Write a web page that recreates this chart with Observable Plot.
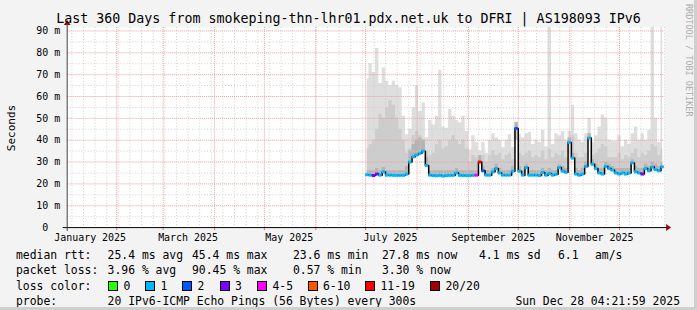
<!DOCTYPE html>
<html><head><meta charset="utf-8">
<script src="https://cdn.jsdelivr.net/npm/d3@7"></script>
<script src="https://cdn.jsdelivr.net/npm/@observablehq/plot@0.6"></script>
<style>
html,body{margin:0;padding:0;background:#f3f3f3;}
#wrap{position:relative;width:697px;height:310px;background:#f3f3f3;overflow:hidden;font-family:"DejaVu Sans Mono",monospace;color:#000;box-sizing:border-box;border-right:3px solid #cfcfcf;border-bottom:3px solid #cfcfcf;}
#wrap svg{position:absolute;left:0;top:18px;}
.t{position:absolute;white-space:pre;font-size:11.4px;line-height:12px;}
.box{position:absolute;width:8px;height:8px;border:1px solid #000;}
</style></head><body><div id="wrap"></div>
<script>
// ---- data ----
const titleText = "Last 360 Days from smokeping-thn-lhr01.pdx.net.uk to DFRI | AS198093 IPv6";
const startDate = new Date(Date.UTC(2025, 0, 2, 4, 21, 59));
const endDate = new Date(Date.UTC(2025, 11, 28, 4, 21, 59));
// one sample every 2 days starting 2025-07-02
const medianRtt = [
 24.2,24.0,23.8,24.5,24.0,25.5,24.0,24.0,23.9,23.9,
 23.9,23.9,24.5,30.0,32.4,33.3,34.0,35.0,28.4,24.0,
 23.8,23.7,23.9,23.6,23.8,23.9,23.9,25.0,23.9,23.8,
 23.8,23.8,23.9,24.0,30.0,26.0,24.0,24.0,25.5,27.0,
 25.0,24.0,24.0,24.0,25.8,45.4,25.8,24.0,27.5,24.0,
 24.0,24.0,23.8,25.2,24.0,24.8,24.0,24.4,27.5,25.8,
 25.3,39.0,31.8,24.5,24.0,24.5,28.0,41.0,29.0,27.0,
 25.0,24.5,28.0,27.0,26.3,25.0,24.5,25.0,24.5,25.0,
 29.6,25.5,25.0,24.5,27.0,26.0,27.7,26.5,26.0,27.8];
const lossClass = [
 1,1,3,3,1,1,1,1,1,1,
 1,1,1,1,1,1,1,1,1,1,
 1,1,1,1,1,1,1,1,1,1,
 1,1,1,4,6,2,1,1,1,1,
 1,1,1,1,1,2,1,1,1,1,
 1,1,1,1,1,1,1,1,1,1,
 1,1,1,1,1,1,1,1,1,1,
 1,1,1,1,1,1,1,1,1,1,
 1,1,1,3,1,1,1,1,1,1];
const smokeMax = [
 68,75,71,82,66,73,67,65,67,65,
 64,51,42.5,45,55,65,53,57,41,49,
 47,51,72,46,45.5,54,51,49,48,51,
 44,35.5,42,39,35,39,34,40,43,41,
 40,36.5,40,42.5,36.5,48.5,42.5,41,43,43.5,
 38,40,39,44.5,37,95,38,43,42,44,
 40,44,56,43,40,39,43,50,39,42,
 46,51.5,50,40,39.5,39.5,42,37,40,38,
 43,46,40,43,40,44.5,95,50,39,95];
const smokeMid = [
 36,38,40,45,52,50,55,58,56,50,
 45,40,34,36,42,44,42,40,35,33,
 34,38,40,36,37,40,42,40,38,40,
 36,30,33,32,30,33,30,33,35,33,
 34,31,33,34,31,40,34,33,34,35,
 32,33,32,35,31,36,32,34,33,35,
 32,41,42,34,32,32,34,43,33,34,
 36,38,37,32,32,32,34,31,33,32,
 34,36,32,34,33,35,38,37,33,36];
const smokeInner = [
 26,26,26,27,26,27.5,26,26,26,26,
 26,26,28,35,38,40,41,40,32,26,
 26,26,26,26,26,26,26,27,26,26,
 26,26,26,26,33,28,26,26,27,29,
 27,26,26,26,28,48,28,26,29,26,
 26,26,26,27,26,27,26,26,29,28,
 27,41,34,27,26,27,30,43,31,29,
 27,27,30,29,28,27,27,27,27,27,
 31,28,27,27,29,28,30,29,28,29.5];
const lossLabels = ["0","1","2","3","4-5","6-10","11-19","20/20"];
const lossColors = ["#26ff00","#00b8ff","#0059ff","#7e00ff","#ff00ff","#ff5500","#ff0000","#a10000"];
const monthLabels = ["January 2025","March 2025","May 2025","July 2025","September 2025","November 2025"];
const monthLabelDates = [0,2,4,6,8,10].map(m => new Date(Date.UTC(2025, m, 16)));
const yTicks = [0,10,20,30,40,50,60,70,80,90];
const yMinor = [5,15,25,35,45,55,65,75,85];
const medianStats = ["25.4 ms avg","45.4 ms max","23.6 ms min","27.8 ms now","4.1 ms sd","6.1","am/s"];
const lossStats = ["3.96 % avg","90.45 % max","0.57 % min","3.30 % now"];
const probeText = "20 IPv6-ICMP Echo Pings (56 Bytes) every 300s";
const dateText = "Sun Dec 28 04:21:59 2025";

// ---- table ----
const data = medianRtt.map((v, i) => ({
  date: new Date(Date.UTC(2025, 6, 2 + 2 * i)),
  med: v, loss: lossClass[i], max: smokeMax[i], mid: smokeMid[i], inner: smokeInner[i]
}));
const weekLines = d3.utcSunday.range(startDate, endDate);
const monthLines = d3.utcMonth.range(startDate, endDate);
const labelMap = new Map(monthLabelDates.map((d, i) => [+d, monthLabels[i]]));

const W = 697, H = 228, mL = 67, mR = 30, mT = 9, mB = 18;
const red = "#eaa0a0", gray = "#cfcfcf";

const plot = Plot.plot({
  width: W, height: H, marginLeft: mL, marginRight: mR, marginTop: mT, marginBottom: mB,
  style: {background: "transparent", fontFamily: "DejaVu Sans Mono", fontSize: "10px", color: "#000", overflow: "visible"},
  x: {type: "utc", domain: [startDate, endDate]},
  y: {domain: [0, 91.6]},
  marks: [
    Plot.frame({fill: "#ffffff", stroke: "none"}),
    Plot.areaY(data, {x: "date", y1: "med", y2: "max", curve: "step", fill: "#dedede", clip: true}),
    Plot.areaY(data, {x: "date", y1: "med", y2: "mid", curve: "step", fill: "#cdcdcd", clip: true}),
    Plot.areaY(data, {x: "date", y1: "med", y2: "inner", curve: "step", fill: "#b4b4b4", clip: true}),
    Plot.ruleY(yMinor, {stroke: gray, strokeDasharray: "1,2"}),
    Plot.ruleX(weekLines, {stroke: gray, strokeDasharray: "1,2"}),
    Plot.ruleY(yTicks.filter(d => d > 0), {stroke: red, strokeDasharray: "1,1"}),
    Plot.ruleX(monthLines, {stroke: red, strokeDasharray: "1,1"}),
    Plot.lineY(data, {x: "date", y: "med", curve: "step", stroke: "#000", strokeWidth: 1.5}),
    Plot.ruleY(data, {x1: d => d3.utcHour.offset(d.date, -24), x2: d => d3.utcHour.offset(d.date, 24), y: "med", stroke: d => lossColors[d.loss], strokeWidth: 3}),
    Plot.axisY({ticks: yTicks, tickSize: 0, tickPadding: 7, tickFormat: d => d === 0 ? "0\u00a0\u00a0" : d + " m", label: null}),
    Plot.axisX({ticks: monthLines, tickSize: 3, stroke: "#e07070", tickFormat: () => "", label: null}),
    Plot.axisX({ticks: monthLabelDates, tickSize: 0, tickPadding: 6, tickFormat: d => labelMap.get(+d), label: null})
  ]
});

// axis lines with arrows
const svg = d3.select(plot);
const x0 = mL, x1 = W - mR, yb = H - mB, yt = mT;
svg.append("line").attr("x1", x0 - 4).attr("x2", x1 + 3).attr("y1", yb + 0.5).attr("y2", yb + 0.5).attr("stroke", "#000");
svg.append("line").attr("x1", x0 + 0.5).attr("x2", x0 + 0.5).attr("y1", yb + 4).attr("y2", yt - 3).attr("stroke", "#444");
svg.append("path").attr("d", `M${x1 + 2},${yb - 3}L${x1 + 7},${yb + 0.5}L${x1 + 2},${yb + 4}Z`).attr("fill", "#8b1010");
svg.append("path").attr("d", `M${x0 - 3},${yt - 2}L${x0 + 0.5},${yt - 7}L${x0 + 4},${yt - 2}Z`).attr("fill", "#8b1010");

const wrap = document.getElementById("wrap");
wrap.appendChild(plot);

function txt(s, left, top, extra) {
  const d = document.createElement("div");
  d.className = "t"; d.textContent = s;
  d.style.left = left + "px"; d.style.top = top + "px";
  if (extra) Object.assign(d.style, extra);
  wrap.appendChild(d); return d;
}
// title
txt(titleText, 0, 12, {width: "697px", textAlign: "center", fontSize: "13.3px", lineHeight: "14px"});
// y label
txt("Seconds", -13, 122, {fontSize: "11px", transform: "rotate(-90deg)", width: "50px", textAlign: "center"});
// watermark
txt("RRDTOOL / TOBI OETIKER", 683, 4, {fontSize: "8.5px", color: "#acacac", writingMode: "vertical-rl"});

// legend
const r1 = 249, r2 = 264, r3 = 280, r4 = 295;
txt("median rtt:", 16, r1);
[107.6, 192, 293, 382, 479, 558, 595].forEach((x, i) => txt(medianStats[i], x, r1));
txt("packet loss:", 16, r2);
[107.6, 192, 293, 382].forEach((x, i) => txt(lossStats[i], x, r2));
txt("loss color:", 16, r3);
[108, 145, 182, 219.6, 257, 307.5, 365, 430].forEach((x, i) => {
  const b = document.createElement("div");
  b.className = "box"; b.style.left = x + "px"; b.style.top = (r3 + 1) + "px"; b.style.background = lossColors[i];
  wrap.appendChild(b);
  txt(lossLabels[i], x + 15.5, r3);
});
txt("probe:", 16, r4);
txt(probeText, 107.6, r4);
txt(dateText, 0, r4, {left: "auto", right: "14px"});
</script></body></html>
